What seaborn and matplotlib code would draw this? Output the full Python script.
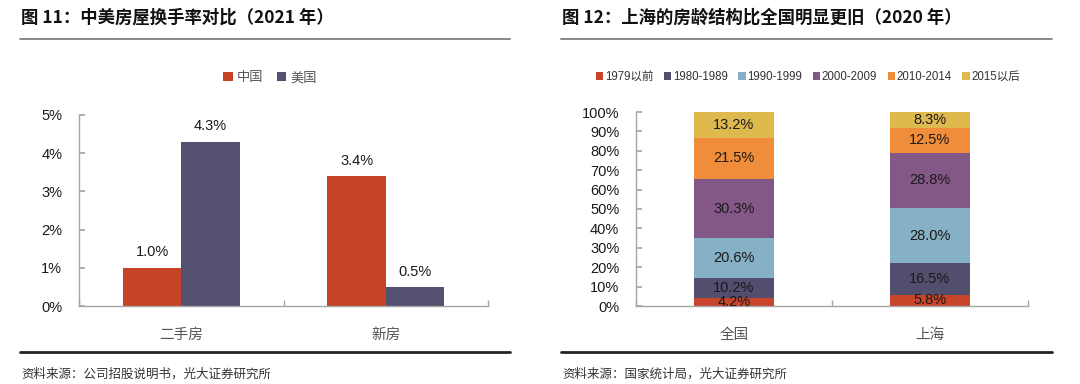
import numpy as np
import pandas as pd
import matplotlib
matplotlib.use("Agg")
import matplotlib.pyplot as plt
from matplotlib.ticker import FuncFormatter, FixedLocator
from matplotlib.patches import Patch
from matplotlib.lines import Line2D
import seaborn as sns

# ---------------- data ----------------
left_categories = ["二手房", "新房"]
left_series = ["中国", "美国"]
china_values = [1.0, 3.4]
usa_values = [4.3, 0.5]
left_yticks = [0, 1, 2, 3, 4, 5]

right_categories = ["全国", "上海"]
age_groups = ["1979以前", "1980-1989", "1990-1999", "2000-2009", "2010-2014", "2015以后"]
national_values = [4.2, 10.2, 20.6, 30.3, 21.5, 13.2]
shanghai_values = [5.8, 16.5, 28.0, 28.8, 12.5, 8.3]
right_yticks = [0, 10, 20, 30, 40, 50, 60, 70, 80, 90, 100]

left_title = "图 11：中美房屋换手率对比（2021 年）"
right_title = "图 12：上海的房龄结构比全国明显更旧（2020 年）"
left_source = "资料来源：公司招股说明书，光大证券研究所"
right_source = "资料来源：国家统计局，光大证券研究所"

# ---------------- style ----------------
sns.set_theme(style="white")
plt.rcParams["font.family"] = ["Liberation Sans", "Noto Sans CJK SC", "DejaVu Sans"]

left_colors = ["#C64325", "#545070"]
right_colors = ["#C8442A", "#524E6E", "#86B0C5", "#835886", "#F08D3A", "#DDB94E"]
axis_gray = "#A6A6A6"

W, H = 1080, 384
fig = plt.figure(figsize=(W / 100, H / 100), dpi=100)


def fx(px):
    return px / W


def fy(py):
    return 1 - py / H


cjk_bold = ["Noto Sans CJK SC", "DejaVu Sans"]

# titles, rules, sources
for x0, x1, title, src in [(20, 510, left_title, left_source), (561, 1052, right_title, right_source)]:
    fig.text(fx(x0 + 1), fy(18), title, fontsize=12.5, fontweight="bold", family=cjk_bold,
             va="center", ha="left", color="#111111")
    fig.add_artist(Line2D([fx(x0), fx(x1)], [fy(39), fy(39)], color="#7F7F7F", lw=1.3))
    fig.add_artist(Line2D([fx(x0), fx(x1)], [fy(352), fy(352)], color="#222222", lw=2.0))
    fig.text(fx(x0 + 1), fy(374), src, fontsize=9, family=cjk_bold, va="center", ha="left",
             color="#333333")


def style_axes(ax):
    for s in ["top", "right"]:
        ax.spines[s].set_visible(False)
    for s in ["left", "bottom"]:
        ax.spines[s].set_color(axis_gray)
        ax.spines[s].set_linewidth(1.0)
    ax.set_xlabel("")
    ax.set_ylabel("")
    ax.tick_params(axis="y", direction="in", length=4, color=axis_gray, labelsize=10.5,
                   labelcolor="#1a1a1a", pad=12, left=True)
    ax.tick_params(axis="x", which="major", length=0, labelsize=10.5, labelcolor="#555555", pad=16)
    ax.xaxis.set_minor_locator(FixedLocator([-0.5, 0.5, 1.5]))
    ax.tick_params(axis="x", which="minor", direction="in", length=4, color=axis_gray, bottom=True)
    ax.set_xlim(-0.5, 1.5)


# ---------------- left chart ----------------
axL = fig.add_axes([fx(79), fy(306), fx(488) - fx(79), fy(115) - fy(306)])
dfL = pd.DataFrame({
    "cat": left_categories * 2,
    "series": [left_series[0]] * 2 + [left_series[1]] * 2,
    "value": china_values + usa_values,
})
sns.barplot(data=dfL, x="cat", y="value", hue="series", order=left_categories,
            hue_order=left_series, palette=left_colors, width=0.57, ax=axL,
            legend=False, saturation=1, edgecolor="none")
axL.set_ylim(0, 5)
axL.set_yticks(left_yticks)
axL.yaxis.set_major_formatter(FuncFormatter(lambda v, p: f"{v:.0f}%"))
style_axes(axL)
for cont in axL.containers:
    axL.bar_label(cont, labels=[f"{v:.1f}%" for v in cont.datavalues], padding=6,
                  fontsize=10.5, color="#1a1a1a")
handlesL = [Patch(facecolor=c, edgecolor="none") for c in left_colors]
fig.legend(handlesL, left_series, loc="center", bbox_to_anchor=(fx(270), fy(78)), ncol=2,
           frameon=False, fontsize=9.5, handlelength=0.75, handleheight=0.75, handletextpad=0.3,
           columnspacing=1.0, labelcolor="#555555")

# ---------------- right chart ----------------
axR = fig.add_axes([fx(636), fy(306), fx(1028) - fx(636), fy(112) - fy(306)])
values_matrix = np.array([national_values, shanghai_values])
cum = np.cumsum(values_matrix, axis=1)
for i in range(len(age_groups) - 1, -1, -1):
    sns.barplot(x=right_categories, y=cum[:, i], color=right_colors[i], width=0.41, ax=axR,
                saturation=1, edgecolor="none")
axR.set_ylim(0, 100)
axR.set_yticks(right_yticks)
axR.yaxis.set_major_formatter(FuncFormatter(lambda v, p: f"{v:.0f}%"))
style_axes(axR)
for j in range(len(right_categories)):
    for i in range(len(age_groups)):
        v = values_matrix[j, i]
        axR.text(j, cum[j, i] - v / 2, f"{v:.1f}%", ha="center", va="center",
                 fontsize=10.5, color="#1a1a1a")
handlesR = [Patch(facecolor=c, edgecolor="none") for c in right_colors]
fig.legend(handlesR, age_groups, loc="center", bbox_to_anchor=(fx(808), fy(77)), ncol=6,
           frameon=False, fontsize=8.3, handlelength=0.65, handleheight=0.65, handletextpad=0.15,
           columnspacing=0.9, labelcolor="#333333")

fig.savefig("out.png", dpi=100)
